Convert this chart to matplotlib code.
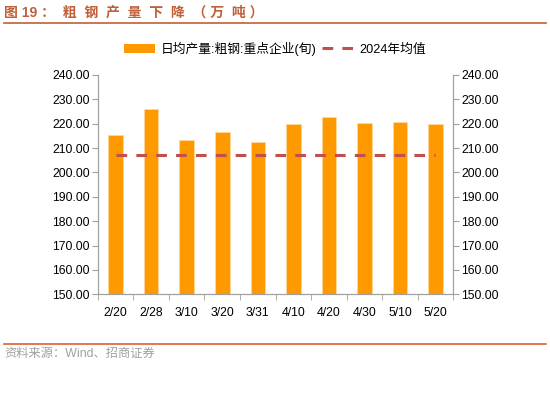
import matplotlib.pyplot as plt
from matplotlib.lines import Line2D
from matplotlib.patches import Patch

plt.rcParams['font.family'] = ['Liberation Sans', 'Noto Sans CJK SC', 'DejaVu Sans']
plt.rcParams['axes.unicode_minus'] = False

dates = ['2/20', '2/28', '3/10', '3/20', '3/31', '4/10', '4/20', '4/30', '5/10', '5/20']
output = [215.2, 226.0, 213.3, 216.7, 212.5, 219.7, 222.8, 220.2, 220.5, 219.8]
avg_2024 = 207.2

fig = plt.figure(figsize=(5.5, 3.94), dpi=100)
ax = fig.add_axes([0.178, 0.253, 0.646, 0.557])

x = range(len(dates))
ax.bar(x, output, width=0.41, color='#FF9900', edgecolor='#FFD9A0', linewidth=0.5, zorder=2)
ax.plot([0, len(dates) - 1], [avg_2024, avg_2024], color='#C0504D', lw=2.2,
        dashes=(3.5, 3.0), zorder=3)

ax.set_xlim(-0.5, len(dates) - 0.5)
ax.set_ylim(150, 240)
yt = list(range(150, 241, 10))
ax.set_yticks(yt)
ax.set_yticklabels(['%.2f' % v for v in yt], fontsize=8.8)
ax.set_xticks(list(x))
ax.set_xticklabels(dates, fontsize=8.8)
ax.tick_params(axis='x', length=0, pad=9)
ax.set_xticks([i + 0.5 for i in range(-1, len(dates))], minor=True)
ax.tick_params(axis='x', which='minor', length=4, color='#A0A0A0')
ax.tick_params(axis='y', length=4, color='#A0A0A0', pad=2)

for s in ['left', 'bottom', 'right']:
    ax.spines[s].set_color('#A0A0A0')
ax.spines['top'].set_visible(False)

ax2 = ax.twinx()
ax2.set_ylim(150, 240)
ax2.set_yticks(yt)
ax2.set_yticklabels(['%.2f' % v for v in yt], fontsize=8.8)
ax2.tick_params(axis='y', length=4, color='#A0A0A0', pad=2)
for s in ['left', 'bottom', 'right']:
    ax2.spines[s].set_color('#A0A0A0')
ax2.spines['top'].set_visible(False)

handles = [Patch(facecolor='#FF9900', edgecolor='none'),
           Line2D([0], [0], color='#C0504D', lw=2.2, dashes=(3.5, 3.0))]
labels = ['日均产量:粗钢:重点企业(旬)', '2024年均值']
fig.legend(handles, labels, loc='center', bbox_to_anchor=(0.5, 0.876), ncol=2,
           frameon=False, fontsize=9.2, handlelength=2.4, handleheight=0.7,
           columnspacing=0.4, handletextpad=0.5)

fig.text(0.008, 0.967, '图 19 ：  粗  钢  产  量  下  降  （ 万  吨 ）', fontsize=10,
         fontweight='bold', color='#C0603A', va='center', ha='left')
fig.add_artist(Line2D([0.008, 0.992], [0.942, 0.942], color='#C0603A', lw=1.2))
fig.add_artist(Line2D([0.008, 0.992], [0.127, 0.127], color='#E06030', lw=1.2))
fig.text(0.008, 0.101, '资料来源：Wind、招商证券', fontsize=8.8, color='#A0A0A0',
         va='center', ha='left')

fig.savefig('out.png', dpi=100)
